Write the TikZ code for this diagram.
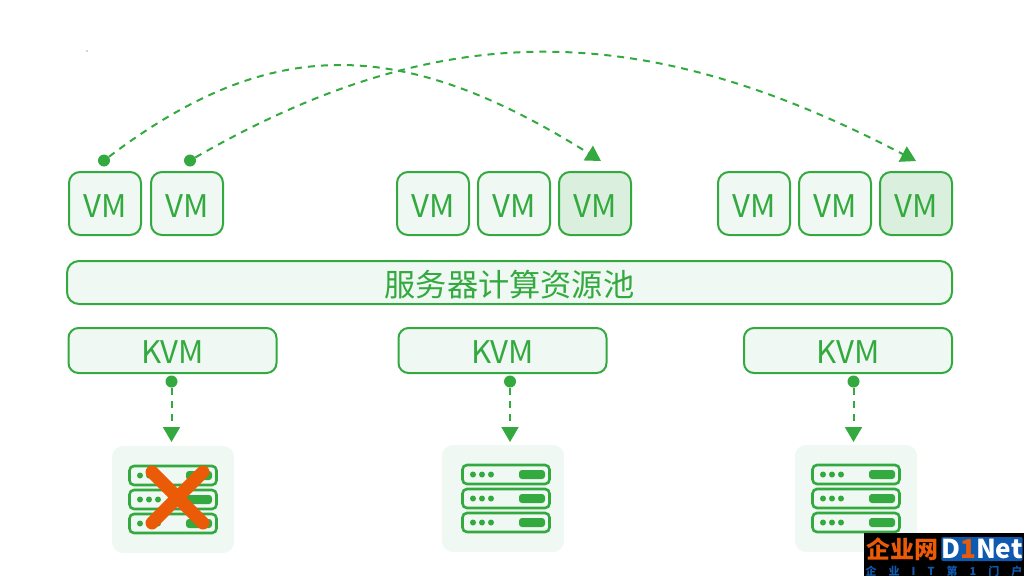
\documentclass[tikz,border=0pt]{standalone}
\usepackage{fontspec}
\setmainfont{Noto Sans CJK SC}
\usetikzlibrary{positioning, arrows.meta, calc}
\definecolor{vmgreen}{HTML}{33A93F}
\definecolor{vmpale}{HTML}{EFF8F2}
\definecolor{vmmark}{HTML}{DAEFDD}
\definecolor{crossred}{HTML}{EB5A06}
\definecolor{logoblue}{HTML}{0F5AAE}
\tikzset{
    vm/.style={draw=vmgreen, fill=vmpale, line width=2pt, rounded corners=11pt, minimum width=72pt, minimum height=63pt, inner sep=0pt, text=vmgreen, font=\fontsize{31.2}{31}\selectfont, text height=27pt, text depth=0pt},
    vmnew/.style={vm, fill=vmmark},
    kvm/.style={vm, rounded corners=10pt, minimum width=208pt, minimum height=45pt, text height=25pt},
    pool/.style={vm, rounded corners=12pt, minimum width=885pt, minimum height=43pt, text height=27.4pt},
    panel/.style={fill=vmpale, rounded corners=11pt, minimum width=122pt, minimum height=107pt, inner sep=0pt},
    dotmark/.style={circle, fill=vmgreen, minimum size=12pt, inner sep=0pt},
    move/.style={vmgreen, line width=2pt, dash pattern=on 7pt off 6pt, -{Triangle[length=15pt, width=17pt]}},
    server/.pic={
        \foreach \y in {-24,0,24} {
            \draw[vmgreen, line width=2.6pt, rounded corners=4.5pt] (-43.5,\y-9.5) rectangle (43.5,\y+9.5);
            \foreach \x in {-33,-24,-15} \fill[vmgreen] (\x,\y) circle (3pt);
            \fill[vmgreen, rounded corners=3pt] (13,\y-4.5) rectangle (39,\y+4.5);
        }
    }
}

\begin{document}
\begin{tikzpicture}[x=1pt, y=-1pt]
    \useasboundingbox (0,0) rectangle (1024,576);

    \node[vm] (a1) at (105,203.5) {VM};
    \node[vm, right=8pt of a1] (a2) {VM};
    \node[vm] (b1) at (433,203.5) {VM};
    \node[vm, right=7pt of b1] (b2) {VM};
    \node[vmnew, right=7pt of b2] (b3) {VM};
    \node[vm] (c1) at (754,203.5) {VM};
    \node[vm, right=7pt of c1] (c2) {VM};
    \node[vmnew, right=7pt of c2] (c3) {VM};

    \node[pool] (res) at (509.5,282.5) {服务器计算资源池};

    \node[kvm] (k1) at (172.5,350.5) {KVM};
    \node[kvm] (k2) at (502.5,350.5) {KVM};
    \node[kvm] (k3) at (848,350.5) {KVM};

    \node[panel] (s1) at (173,499.5) {};
    \node[panel] (s2) at (503,498.5) {};
    \node[panel] (s3) at (856,498.5) {};
    \pic at (s1) {server};
    \pic at ($(s2)+(3,0)$) {server};
    \pic at (s3) {server};

    % failed host
    \draw[crossred, line width=13pt, line cap=round] (152,472) -- (203,523);
    \draw[crossred, line width=13pt, line cap=round] (203,472) -- (152,523);

    \node[dotmark] (m1) at (104,160.5) {};
    \node[dotmark] (m2) at (190,160.5) {};
    \node[dotmark] (d1) at (171.5,381.5) {};
    \node[dotmark] (d2) at (510,381.5) {};
    \node[dotmark] (d3) at (853.5,381.5) {};
    \coordinate (e1) at (601,161);
    \coordinate (e2) at (916,161);
    \coordinate (f1) at (171.5,442);
    \coordinate (f2) at (510,442);
    \coordinate (f3) at (853.5,442);

    \draw[move] (m1) .. controls (270,35) and (400,35) .. (e1);
    \draw[move] (m2) .. controls (440,17) and (640,17) .. (e2);
    \draw[move] (d1) -- (f1);
    \draw[move] (d2) -- (f2);
    \draw[move] (d3) -- (f3);

    % stray mark and logo corner
    \fill[black!70] (87,51) circle (0.6pt);
    \node[fill=black, minimum width=160pt, minimum height=43pt, inner sep=0pt] (logo) at (944,554.5) {};
    \node[fill=logoblue, rounded corners=2pt, minimum width=80pt, minimum height=24pt, inner sep=0pt, text=white, font=\fontsize{26}{26}\bfseries\selectfont] (net) at (982,549) {D\textcolor{crossred}{1}Net};
    \node[text=crossred, font=\fontsize{24}{24}\bfseries\selectfont, inner sep=0pt] (cn) at (902,549) {企业网};
    \node[text=logoblue, font=\fontsize{11}{11}\bfseries\selectfont, inner sep=0pt] (tag) at (944,571) {企\hspace{12pt}业\hspace{12pt}I\hspace{12pt}T\hspace{12pt}第\hspace{12pt}1\hspace{12pt}门\hspace{12pt}户};
\end{tikzpicture}
\end{document}
